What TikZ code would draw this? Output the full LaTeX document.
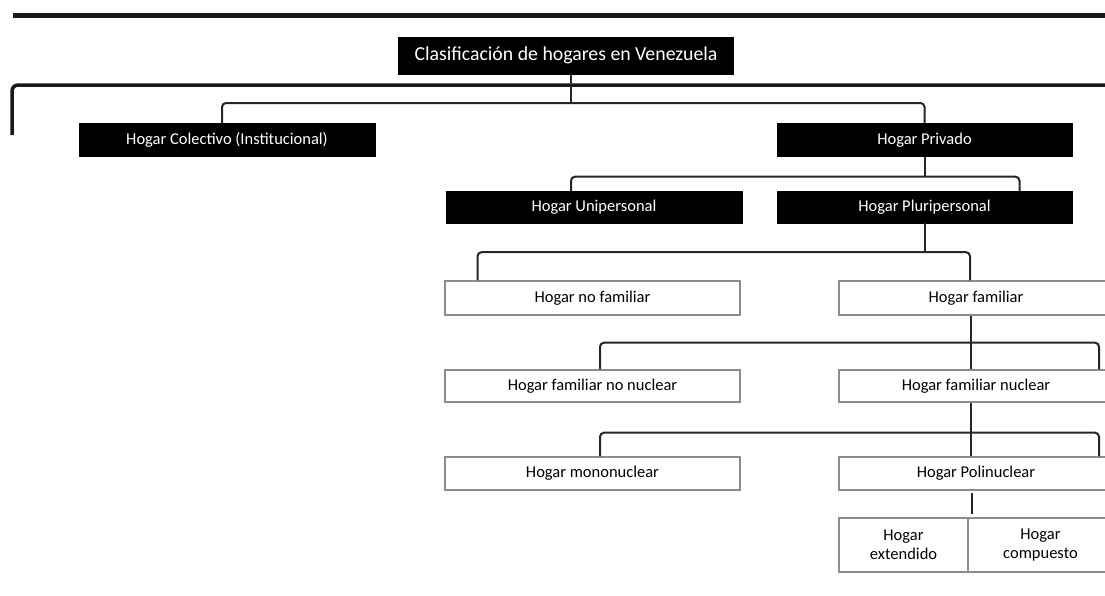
\documentclass[tikz,border=0pt]{standalone}
\usepackage{fontspec}
\setmainfont{Carlito}
\usepackage{tikz}
\usetikzlibrary{calc}
\tikzstyle{darkBox} = [draw=black, fill=black, text=white, rectangle, inner sep=0pt,
   minimum width=296pt, minimum height=33pt, font=\fontsize{16.5}{19}\selectfont]
\tikzstyle{lightBox} = [draw=black!45, line width=1.4pt, fill=white, rectangle, inner sep=0pt,
   minimum width=274pt, minimum height=33pt, align=center, font=\fontsize{16.5}{19}\selectfont]
\tikzstyle{link} = [line width=2pt, draw=black!85, rounded corners=4pt]
\tikzstyle{heavyRule} = [line width=5pt, draw=black!90]
\tikzstyle{wideBrace} = [line width=3.5pt, draw=black!90, rounded corners=6pt]

\begin{document}
\begin{tikzpicture}[x=1pt, y=-1pt]
			\path[use as bounding box] (0,0) rectangle (1105,595);
			\clip (0,0) rectangle (1105,595);

			% rules across the page
			\draw[heavyRule] (13,15) -- (1110,15);
			\draw[wideBrace] (12,135) |- (1110,85);

  			% black boxes
  			\node[darkBox, minimum width=335pt, minimum height=37pt, font=\fontsize{19.8}{22}\selectfont] (clasif) at (566,55.5) {Clasificación de hogares en Venezuela};
  			\node[darkBox] (colectivo) at (227,140) {Hogar Colectivo (Institucional)};
  			\node[darkBox, minimum width=295pt] (privado) at (924.5,140) {Hogar Privado};
  			\node[darkBox, minimum height=32pt] (unipersonal) at (594,207) {Hogar Unipersonal};
  			\node[darkBox, minimum width=295pt, minimum height=32pt] (pluripersonal) at (924.5,207) {Hogar Pluripersonal};

  			% white boxes
  			\node[lightBox, minimum width=295pt, minimum height=34pt] (nofamiliar) at (592.5,298) {Hogar no familiar};
  			\node[lightBox, minimum height=34pt] (familiar) at (976,298) {Hogar familiar};
  			\node[lightBox, minimum width=295pt, minimum height=32pt] (nonuclear) at (592.5,386) {Hogar familiar no nuclear};
  			\node[lightBox, minimum height=32pt] (nuclear) at (976,386) {Hogar familiar nuclear};
  			\node[lightBox, minimum width=295pt] (mononuclear) at (592.5,473.5) {Hogar mononuclear};
  			\node[lightBox] (polinuclear) at (976,473.5) {Hogar Polinuclear};
  			\node[lightBox, minimum width=129pt, minimum height=54pt] (extendido) at (903.5,545) {Hogar\\extendido};
  			\node[lightBox, minimum width=145pt, minimum height=54pt] (compuesto) at (1040.5,545) {Hogar\\compuesto};

  			% connectors, level by level
  			\coordinate (j1) at (571,103);
  			\draw[link] ([xshift=5pt]clasif.south) -- (j1);
  			\draw[link] ([xshift=-5pt]colectivo.north) |- (j1) -| (privado.north);

  			\draw[link] (privado.south) -- ++(0,20) coordinate (j2);
  			\draw[link] ([xshift=-23pt]unipersonal.north) |- (j2) -| ([xshift=95pt]pluripersonal.north);

  			\draw[link] (pluripersonal.south) -- ++(0,29) coordinate (j3);
  			\draw[link] ([xshift=-115pt]nofamiliar.north) |- (j3) -| ([xshift=-6pt]familiar.north);

  			\draw[link] ([xshift=-5pt]familiar.south) -- ([xshift=-5pt]nuclear.north);
  			\path ([xshift=-5pt]familiar.south) -- ++(0,27) coordinate (j4);
  			\draw[link] ([xshift=7.5pt]nonuclear.north) |- (j4) -| ([xshift=123pt]nuclear.north);

  			\draw[link] ([xshift=-5pt]nuclear.south) -- ([xshift=-5pt]polinuclear.north);
  			\path ([xshift=-5pt]nuclear.south) -- ++(0,30) coordinate (j5);
  			\draw[link] ([xshift=7.5pt]mononuclear.north) |- (j5) -| ([xshift=123pt]polinuclear.north);

  			\coordinate (p6) at ([xshift=-4pt]polinuclear.south);
  			\draw[link, line width=2.5pt, shorten <=2pt, shorten >=3pt] (p6) -- (p6 |- extendido.north);
		\end{tikzpicture}
\end{document}
